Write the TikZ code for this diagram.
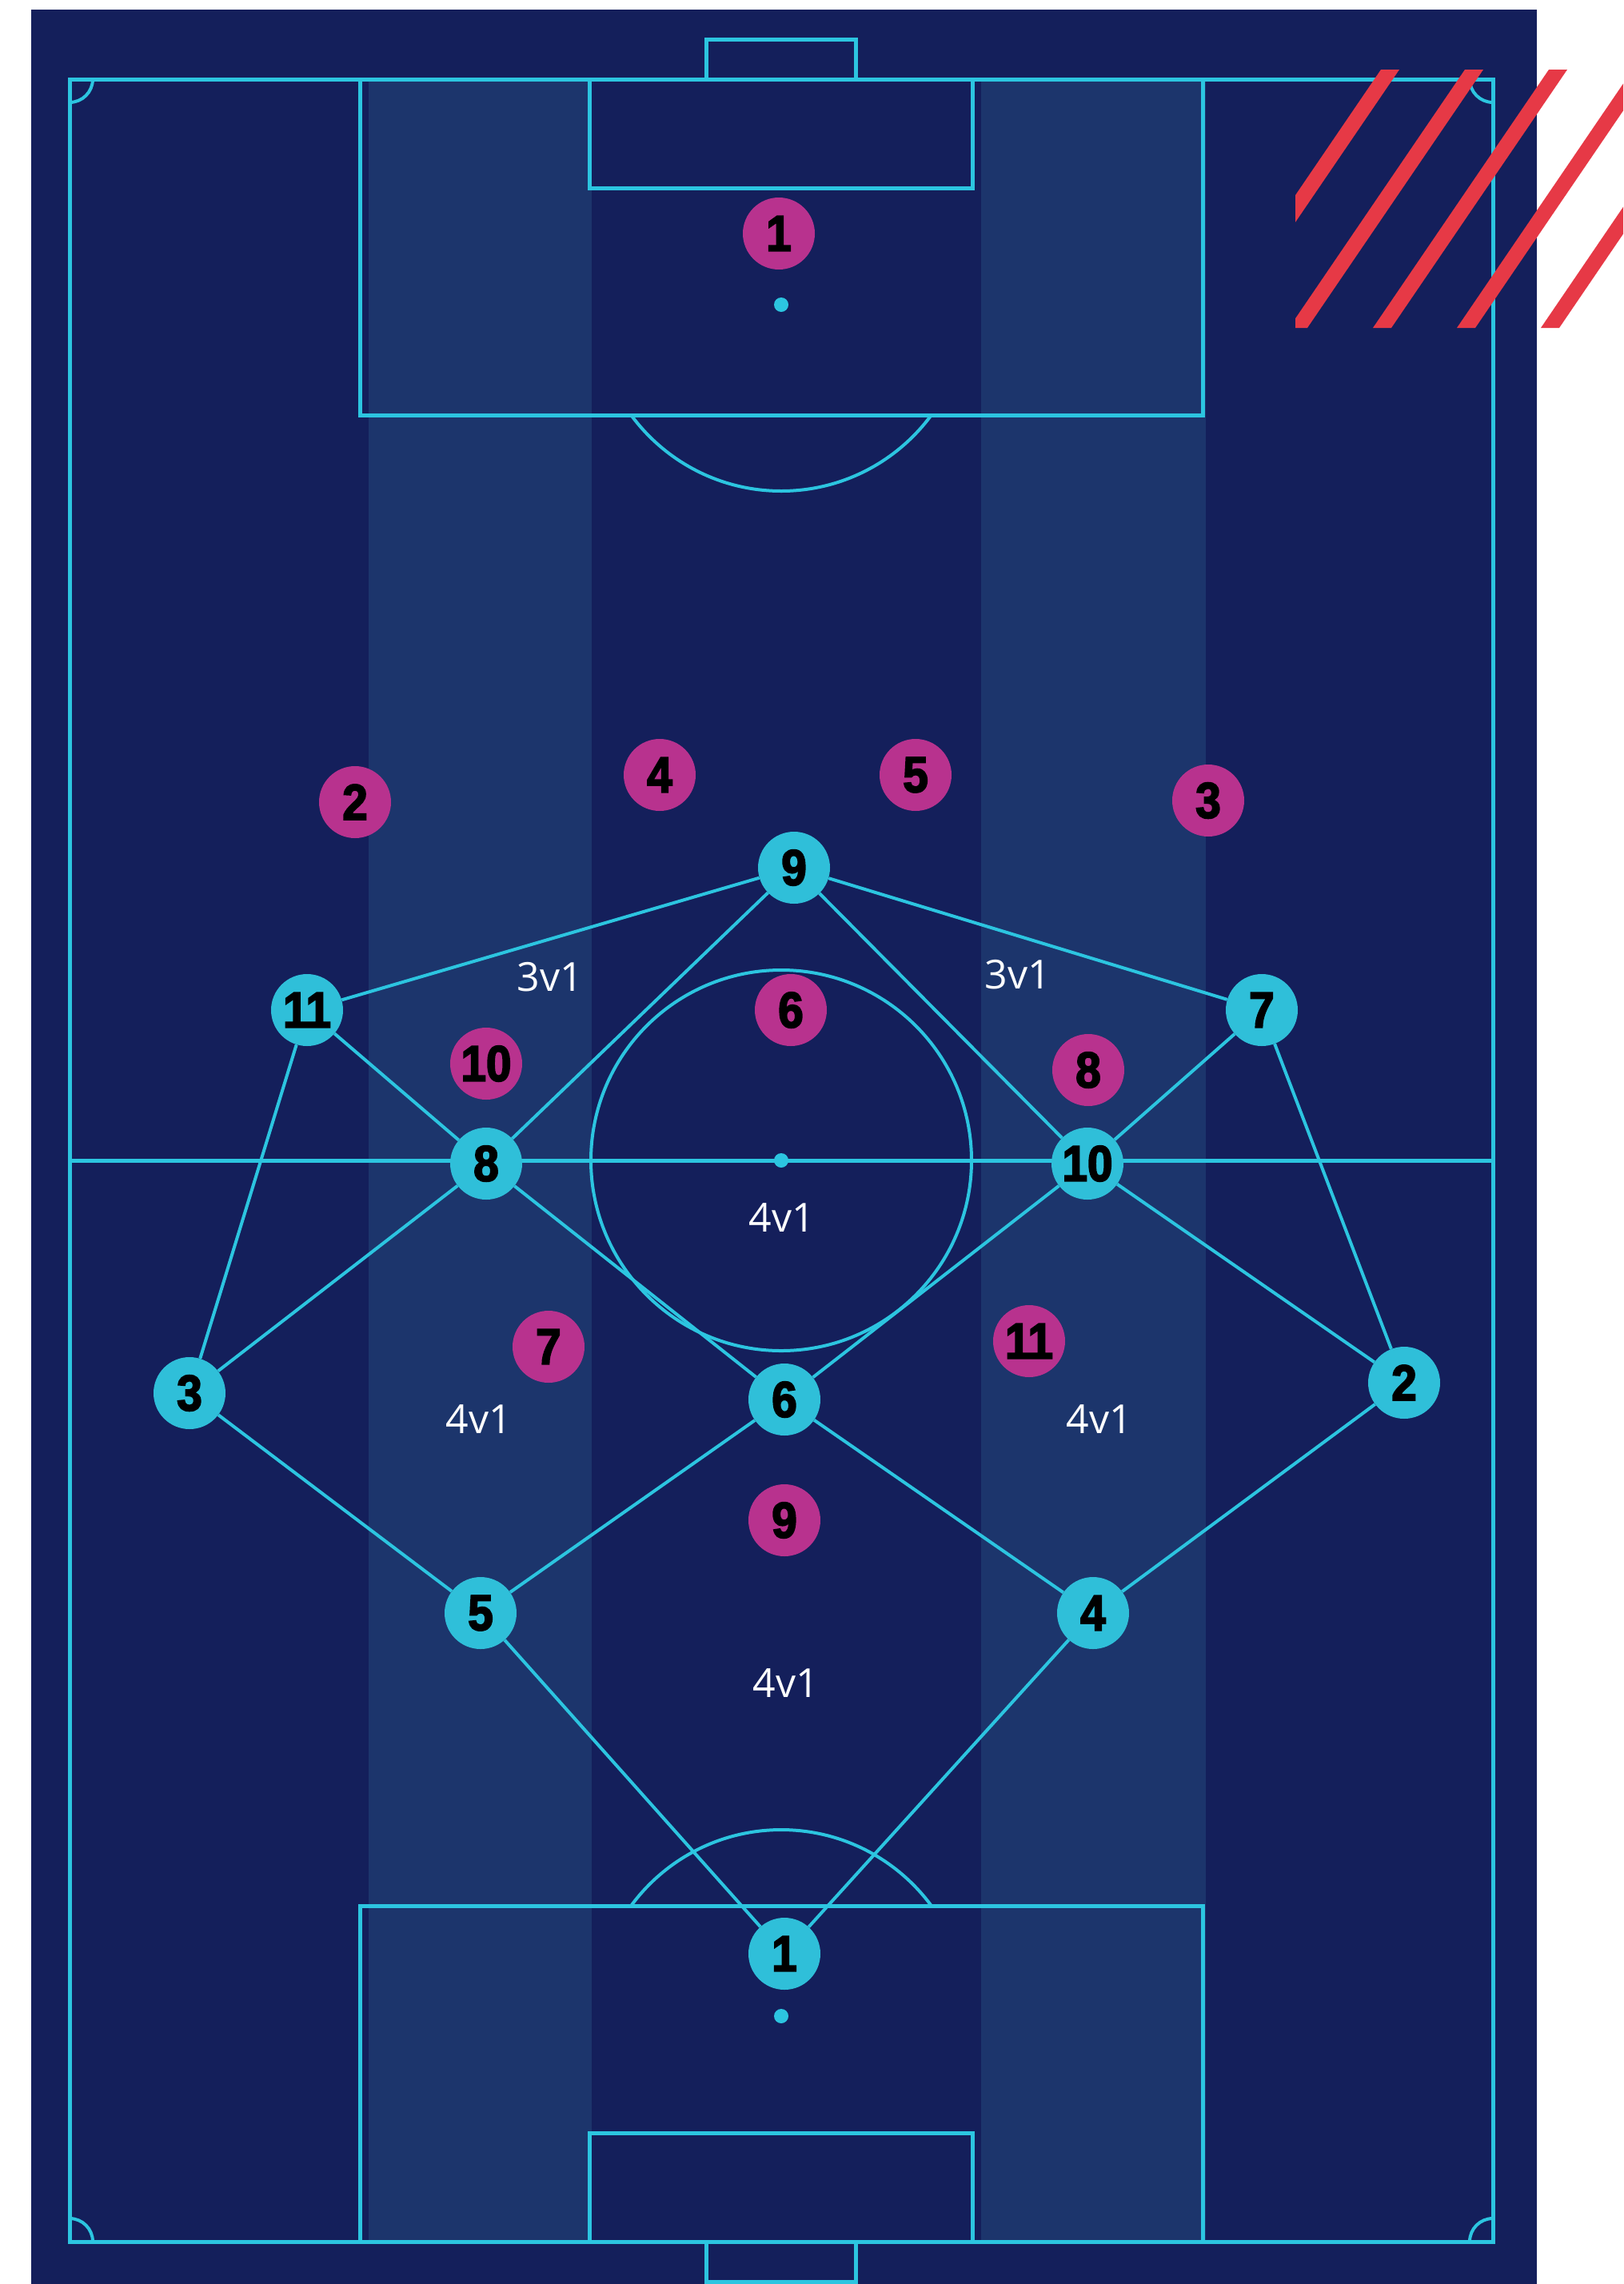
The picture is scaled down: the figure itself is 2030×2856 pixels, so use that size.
\documentclass[tikz,border=0pt]{standalone}
\usepackage{fontspec}
\setmainfont{Open Sans}
\newfontfamily\numfont{Liberation Sans}[FakeBold=3,FakeStretch=0.9]
\definecolor{bgc}{HTML}{141F5B}
\definecolor{bandc}{HTML}{1C356C}
\definecolor{linec}{HTML}{2CC5E0}
\definecolor{cyanp}{HTML}{2FBFD9}
\definecolor{magp}{HTML}{B8328E}
\definecolor{redc}{HTML}{E63946}
\tikzset{
  pitchline/.style={draw=linec, line width=5pt},
  link/.style={draw=linec, line width=4pt},
  player/.style={circle, minimum size=90pt, inner sep=0pt, text=black,
    font=\numfont\bfseries\fontsize{63}{63}\selectfont},
  home/.style={player, fill=cyanp},
  away/.style={player, fill=magp},
  zonelabel/.style={text=white, inner sep=0pt, font=\fontsize{50}{50}\selectfont},
  spot/.style={fill=linec},
}
\begin{document}
\begin{tikzpicture}[x=1pt,y=-1pt]
\useasboundingbox (0,0) rectangle (2030,2856);
\fill[white] (0,0) rectangle (2030,2856);
\fill[bgc] (39,12) rectangle (1922,2856);
% lighter vertical bands
\fill[bandc] (461,99) rectangle (740,2803);
\fill[bandc] (1227,99) rectangle (1508,2803);
% pitch outline and markings
\draw[pitchline] (87,99) rectangle (1867,2803);
\draw[pitchline] (87,1451) -- (1867,1451);
\draw[pitchline, line width=4pt] (977,1451) circle[radius=238];
\fill[spot] (977,1451) circle[radius=9];
% top end
\draw[pitchline] (450,99) rectangle (1504,519);
\draw[pitchline] (737,99) rectangle (1216,235);
\draw[pitchline] (883,49) rectangle (1070,99);
\fill[spot] (977,381) circle[radius=9];
\begin{scope}
  \clip (0,519) rectangle (2030,1000);
  \draw[pitchline, line width=4pt] (977,381) circle[radius=233];
\end{scope}
% bottom end
\draw[pitchline] (450,2383) rectangle (1504,2803);
\draw[pitchline] (737,2667) rectangle (1216,2803);
\draw[pitchline] (883,2803) rectangle (1070,2853);
\fill[spot] (977,2521) circle[radius=9];
\begin{scope}
  \clip (0,1900) rectangle (2030,2383);
  \draw[pitchline, line width=4pt] (977,2521) circle[radius=233];
\end{scope}
% corner arcs
\begin{scope}
  \clip (87,99) rectangle (1867,2803);
  \foreach \cx/\cy in {87/99,1867/99,87/2803,1867/2803}
    \draw[pitchline, line width=4pt] (\cx,\cy) circle[radius=29];
\end{scope}
% red stripes
\begin{scope}
  \clip (1620,87) rectangle (2030,410);
  \foreach \k in {0,...,4}
    \fill[redc] ({1727+105*\k},87) -- ({1750+105*\k},87) -- ({1530+105*\k},410) -- ({1507+105*\k},410) -- cycle;
\end{scope}
% home players (cyan)
\node[home] (h9) at (993,1085) {9};
\node[home] (h11) at (384,1263) {11};
\node[home] (h7) at (1578,1263) {7};
\node[home] (h8) at (608,1455) {8};
\node[home] (h10) at (1360,1455) {10};
\node[home] (h3) at (237,1742) {3};
\node[home] (h2) at (1756,1729) {2};
\node[home] (h6) at (981,1750) {6};
\node[home] (h5) at (601,2017) {5};
\node[home] (h4) at (1367,2017) {4};
\node[home] (h1) at (981,2443) {1};
% away players (magenta)
\node[away] (a1) at (974,292) {1};
\node[away] (a2) at (444,1003) {2};
\node[away] (a4) at (825,969) {4};
\node[away] (a5) at (1145,969) {5};
\node[away] (a3) at (1511,1001) {3};
\node[away] (a6) at (989,1263) {6};
\node[away] (a10) at (608,1330) {10};
\node[away] (a8) at (1361,1338) {8};
\node[away] (a7) at (686,1684) {7};
\node[away] (a11) at (1287,1677) {11};
\node[away] (a9) at (981,1901) {9};
% passing links
\draw[link] (h9) -- (h11);
\draw[link] (h9) -- (h8);
\draw[link] (h9) -- (h10);
\draw[link] (h9) -- (h7);
\draw[link] (h11) -- (h8);
\draw[link] (h11) -- (h3);
\draw[link] (h7) -- (h10);
\draw[link] (h7) -- (h2);
\draw[link] (h8) -- (h3);
\draw[link] (h8) -- (h6);
\draw[link] (h10) -- (h6);
\draw[link] (h10) -- (h2);
\draw[link] (h3) -- (h5);
\draw[link] (h6) -- (h5);
\draw[link] (h6) -- (h4);
\draw[link] (h2) -- (h4);
\draw[link] (h5) -- (h1);
\draw[link] (h4) -- (h1);
% zone labels
\node[zonelabel] (z1) at (688,1222) {3v1};
\node[zonelabel] (z2) at (1273,1219) {3v1};
\node[zonelabel] (z3) at (978,1523) {4v1};
\node[zonelabel] (z4) at (599,1775) {4v1};
\node[zonelabel] (z5) at (1375,1775) {4v1};
\node[zonelabel] (z6) at (983,2105) {4v1};
\end{tikzpicture}
\end{document}
